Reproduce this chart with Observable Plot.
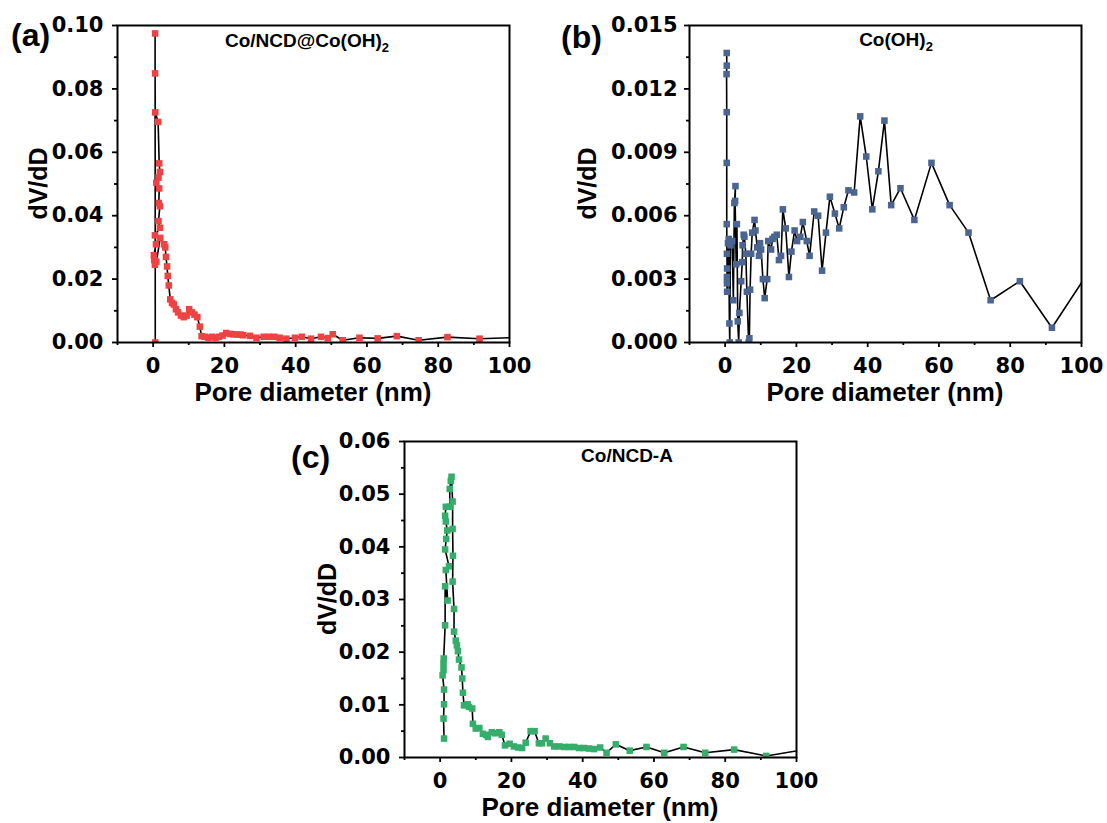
<!DOCTYPE html>
<html><head><meta charset="utf-8">
<script src="https://cdn.jsdelivr.net/npm/d3@7"></script>
<script src="https://cdn.jsdelivr.net/npm/@observablehq/plot@0.6"></script>
<style>
body{margin:0;background:#fff;}
#wrap{position:relative;width:1107px;height:823px;overflow:hidden;background:#fff;}
.panel{position:absolute;}
</style></head><body><div id="wrap"></div>
<script>
// ---- Panel (a): Co/NCD@Co(OH)2 ----
const aDiameter = [0.6,0.55,0.55,0.6,1.4,1.7,1.9,1.5,0.9,1.7,1.6,1.9,1.5,1.9,0.5,0.8,0.2,0.3,0.5,0.9,2.0,3.1,3.4,3.6,3.9,4.1,4.4,4.8,5.3,5.8,6.4,7.0,7.8,8.6,9.4,10.1,10.9,11.6,12.4,13.1,13.6,14.5,15.5,16.5,17.5,18.5,19.5,20.5,21.5,22.5,23.5,24.5,25.3,27.2,29,31,32.5,34,35.5,37.4,39.8,41.7,44.3,47.1,49,50.4,53.2,57.9,63,68.4,74.5,82.6,91.6,110];
const aDvdd = [0.000,0.0975,0.0849,0.0726,0.0696,0.0565,0.0538,0.052,0.0504,0.0486,0.044,0.043,0.0383,0.0362,0.0338,0.031,0.0275,0.026,0.0245,0.0255,0.033,0.031,0.030,0.027,0.024,0.021,0.018,0.0136,0.0125,0.012,0.0105,0.0095,0.0085,0.008,0.0085,0.0105,0.0095,0.0088,0.008,0.005,0.002,0.0018,0.0015,0.0018,0.0015,0.0018,0.0022,0.003,0.0027,0.0026,0.0025,0.0025,0.0023,0.0021,0.0015,0.0018,0.0018,0.0018,0.0015,0.0012,0.0015,0.0018,0.0012,0.0018,0.0014,0.0026,0.0007,0.0015,0.0013,0.002,0.0007,0.0017,0.0012,0.0019];

// ---- Panel (b): Co(OH)2 ----
const bDiameter = [0.45,0.45,0.4,0.45,0.45,0.45,0.5,0.55,0.5,0.5,0.55,0.8,1.0,1.2,1.3,1.5,2.0,2.3,2.6,2.9,2.8,3.1,3.3,3.55,3.8,4.0,4.5,4.8,4.9,5.2,5.4,5.8,6.1,6.6,6.8,7.0,7.3,7.6,8.25,8.5,9.0,9.5,9.8,10.1,10.6,11.1,11.8,12.1,12.9,13.3,13.8,14.5,15.1,15.7,16.2,17,17.9,18.6,19.5,20.2,21.1,21.8,22.9,23.7,25,26.1,27.2,28.3,29.4,30.8,32,33.3,34.6,36.2,37.9,39.6,41.3,43,44.7,46.6,49.2,53.1,57.9,63,68.3,74.5,82.7,91.7,103];
const bDvdd = [0.0137,0.0131,0.0127,0.0109,0.0085,0.0056,0.0042,0.0035,0.0031,0.0028,0.0024,0.0047,0.0049,0.0009,0.0,0.0046,0.0048,0.002,0.0066,0.0074,0.0067,0.0037,0.0056,0.001,0.0,0.0014,0.0029,0.0038,0.0046,0.0051,0.005,0.0042,0.0024,0.0,0.0002,0.0025,0.0042,0.0052,0.0058,0.0053,0.0045,0.0041,0.0047,0.0044,0.003,0.0021,0.003,0.0048,0.0044,0.0049,0.005,0.0051,0.0039,0.0041,0.0063,0.0054,0.0031,0.0043,0.0053,0.0048,0.005,0.0057,0.0048,0.0041,0.0062,0.006,0.0034,0.0052,0.0069,0.0061,0.0054,0.0064,0.0072,0.0071,0.0107,0.0088,0.0063,0.0081,0.0105,0.0065,0.0073,0.0058,0.0085,0.0065,0.0052,0.002,0.0029,0.0007,0.0036];

// ---- Panel (c): Co/NCD-A ----
const cDiameter = [1.1,0.95,1.1,1.1,0.7,0.95,0.95,1.0,1.4,1.4,2.1,1.6,2.5,1.4,1.7,2.0,1.6,1.4,1.6,2.7,2.7,3.0,3.2,3.5,3.5,3.6,3.5,3.9,3.9,4.4,4.7,5.0,5.3,6.0,6.2,6.4,6.7,7.7,8.1,9.0,9.2,10,11,12,12.9,13.4,14.5,15.5,16.6,17.3,18.2,19.5,20.7,21.9,23,24,25.4,26.5,27.7,28.6,29.6,30.8,32,33.4,34.8,36.2,37.6,39,40.4,41.8,43.2,44.9,46.7,49.3,53.2,57.9,62.9,68.3,74.4,82.5,91.5,103];
const cDvdd = [0.0036,0.0074,0.0101,0.0129,0.0156,0.0166,0.0178,0.0188,0.0251,0.0325,0.0298,0.0356,0.0363,0.0395,0.0415,0.0431,0.0448,0.0459,0.0476,0.0476,0.051,0.0525,0.0533,0.0486,0.0434,0.0383,0.0334,0.0282,0.0239,0.0222,0.0213,0.0202,0.0186,0.0171,0.015,0.0123,0.0099,0.0101,0.0096,0.0093,0.0064,0.0055,0.0056,0.0045,0.0043,0.0039,0.0048,0.0046,0.0048,0.0043,0.0023,0.0026,0.0021,0.0019,0.0018,0.0028,0.005,0.005,0.0027,0.0027,0.0036,0.0027,0.0021,0.0021,0.002,0.002,0.002,0.0018,0.0018,0.0017,0.0016,0.0019,0.0009,0.0025,0.0013,0.002,0.0009,0.002,0.0009,0.0015,0.0003,0.0016];

// ---- Tick values ----
const xMajorTicks = [0,20,40,60,80,100];
const xMinorTicks = [-10,10,30,50,70,90];
const aYMajor = [0,0.02,0.04,0.06,0.08,0.10];
const aYMinor = [0.01,0.03,0.05,0.07,0.09];
const bYMajor = [0,0.003,0.006,0.009,0.012,0.015];
const bYMinor = [0.0015,0.0045,0.0075,0.0105,0.0135];
const cYMajor = [0,0.01,0.02,0.03,0.04,0.05,0.06];
const cYMinor = [0.005,0.015,0.025,0.035,0.045,0.055];

const panels = [
  {tag:"(a)", title:"Co/NCD@Co(OH)", sub:"2", xs:aDiameter, ys:aDvdd, color:"#EF4242",
   yMax:0.10, yMajor:aYMajor, yMinor:aYMinor, fmt:".2f",
   left:0, top:0, width:540, height:415, mL:117, mR:31, mT:25, mB:73, tickPad:9,
   tagX:11, tagY:46, titleX:307, titleY:47, yLabX:47, xLabY:401},
  {tag:"(b)", title:"Co(OH)", sub:"2", xs:bDiameter, ys:bDvdd, color:"#4B6592",
   yMax:0.015, yMajor:bYMajor, yMinor:bYMinor, fmt:".3f",
   left:560, top:0, width:547, height:415, mL:129, mR:26, mT:25, mB:73, tickPad:7,
   tagX:1, tagY:48, titleX:336, titleY:46, yLabX:36, xLabY:401},
  {tag:"(c)", title:"Co/NCD-A", sub:"", xs:cDiameter, ys:cDvdd, color:"#36AD6B",
   yMax:0.06, yMajor:cYMajor, yMinor:cYMinor, fmt:".2f",
   left:280, top:415, width:540, height:408, mL:124, mR:24, mT:26, mB:66, tickPad:9,
   tagX:11, tagY:53, titleX:347, titleY:47, yLabX:56, xLabY:401}
];

const wrap = document.getElementById("wrap");
for (const p of panels) {
  const data = p.xs.map((x, i) => ({x, y: p.ys[i]}));
  const svg = Plot.plot({
    width: p.width, height: p.height,
    marginLeft: p.mL, marginRight: p.mR, marginTop: p.mT, marginBottom: p.mB,
    style: {fontFamily: "'DejaVu Sans', sans-serif", fontSize: "21px", fontWeight: "bold", color: "black", background: "transparent", overflow: "visible"},
    x: {domain: [-10, 100]},
    y: {domain: [0, p.yMax]},
    marks: [
      Plot.line(data, {x: "x", y: "y", stroke: "black", strokeWidth: 1.6, clip: true}),
      Plot.dot(data, {x: "x", y: "y", symbol: "square", r: 3.7, fill: p.color, stroke: "none", clip: true}),
      Plot.axisX({ticks: xMajorTicks, tickSize: 5, tickPadding: 11, strokeWidth: 1.8, label: null, tickFormat: d3.format("d")}),
      Plot.axisX({ticks: xMinorTicks, tickSize: 3, strokeWidth: 1.8, label: null, text: null}),
      Plot.axisY({ticks: p.yMajor, tickSize: 5, tickPadding: p.tickPad, strokeWidth: 1.8, label: null, tickFormat: d3.format(p.fmt)}),
      Plot.axisY({ticks: p.yMinor, tickSize: 3, strokeWidth: 1.8, label: null, text: null}),
      Plot.frame({stroke: "black", strokeWidth: 2})
    ]
  });
  const div = document.createElement("div");
  div.className = "panel";
  div.style.left = p.left + "px";
  div.style.top = p.top + "px";
  div.appendChild(svg);
  wrap.appendChild(div);

  const s = d3.select(svg);
  const font = "'Liberation Sans', Arial, sans-serif";
  // panel tag
  s.append("text").attr("x", p.tagX).attr("y", p.tagY).attr("text-anchor", "start")
    .attr("font-family", font).attr("font-size", 32).attr("font-weight", "bold").attr("fill", "black")
    .text(p.tag);
  // sample title
  const t = s.append("text").attr("x", p.titleX).attr("y", p.titleY).attr("text-anchor", "middle")
    .attr("font-family", font).attr("font-size", 19).attr("font-weight", "bold").attr("fill", "black");
  t.append("tspan").text(p.title);
  if (p.sub) t.append("tspan").attr("font-size", 13).attr("dy", 5).text(p.sub);
  // axis labels
  const cx = (p.mL + p.width - p.mR) / 2;
  const cy = (p.mT + p.height - p.mB) / 2;
  s.append("text").attr("x", cx).attr("y", p.xLabY).attr("text-anchor", "middle")
    .attr("font-family", font).attr("font-size", 26).attr("font-weight", "bold").attr("fill", "black")
    .text("Pore diameter (nm)");
  s.append("text").attr("transform", `translate(${p.yLabX},${cy}) rotate(-90)`).attr("text-anchor", "middle")
    .attr("font-family", font).attr("font-size", 25).attr("font-weight", "bold").attr("fill", "black")
    .text("dV/dD");
}
</script></body></html>
